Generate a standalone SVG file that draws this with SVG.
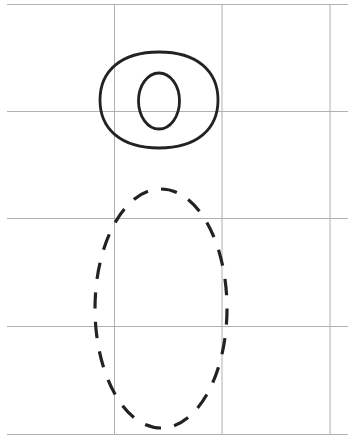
<svg xmlns="http://www.w3.org/2000/svg" width="348" height="438" viewBox="0 0 348 438">
  <style>
    .grid { stroke: #b0b0b6; stroke-width: 1; fill: none; }
    .shape { stroke: #222; fill: none; stroke-width: 2.8; }
    .dash { stroke: #222; fill: none; stroke-width: 3.2; stroke-dasharray: 16.5 13.5; }
  </style>
  <rect width="348" height="438" fill="#ffffff"/>
  <g id="grid">
    <line class="grid" x1="7" y1="4.5" x2="348" y2="4.5"/>
    <line class="grid" x1="7" y1="111.5" x2="348" y2="111.5"/>
    <line class="grid" x1="7" y1="218.5" x2="348" y2="218.5"/>
    <line class="grid" x1="7" y1="326.5" x2="348" y2="326.5"/>
    <line class="grid" x1="7" y1="434.5" x2="348" y2="434.5"/>
    <line class="grid" x1="114.5" y1="4" x2="114.5" y2="435"/>
    <line class="grid" x1="222" y1="4" x2="222" y2="435"/>
    <line class="grid" x1="330" y1="4" x2="330" y2="435"/>
  </g>
  <g id="outer-ring">
    <path class="shape" d="M159,52 C197,52 218,71 218,100 C218,129 197,148 159,148 C121,148 100,129 100,100 C100,71 121,52 159,52 Z"/>
  </g>
  <g id="inner-ring">
    <ellipse class="shape" cx="159" cy="101" rx="20.5" ry="28"/>
  </g>
  <g id="dashed-ellipse">
    <ellipse class="dash" cx="161" cy="308.5" rx="66" ry="119.5" pathLength="600"/>
  </g>
</svg>
